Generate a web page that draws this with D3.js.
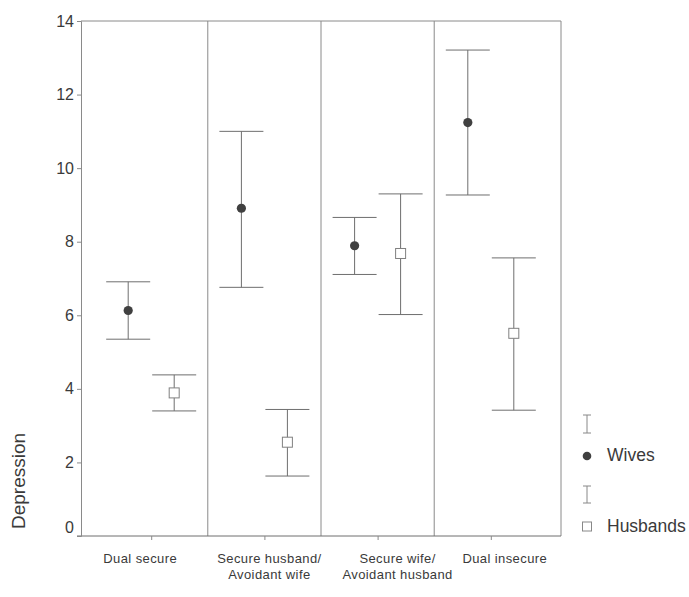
<!DOCTYPE html>
<html>
<head>
<meta charset="utf-8">
<script src="https://cdn.jsdelivr.net/npm/d3@7"></script>
<style>
  html, body { margin: 0; padding: 0; background: #fff; }
  svg { display: block; font-family: "Liberation Sans", Arial, sans-serif; }
</style>
</head>
<body>
<svg id="chart" width="689" height="597"></svg>
<script>
// ---- data ----
const categories = [
  ["Dual secure"],
  ["Secure husband/", "Avoidant wife"],
  ["Secure wife/", "Avoidant husband"],
  ["Dual insecure"]
];
const wivesMean    = [6.13, 8.91, 7.89, 11.24];
const wivesLow     = [5.35, 6.76, 7.11, 9.27];
const wivesHigh    = [6.91, 11.00, 8.66, 13.21];
const husbandsMean = [3.89, 2.55, 7.68, 5.51];
const husbandsLow  = [3.40, 1.63, 6.02, 3.42];
const husbandsHigh = [4.38, 3.44, 9.30, 7.56];
const yTicks = [0, 2, 4, 6, 8, 10, 12, 14];
const seriesNames = ["Wives", "Husbands"];
const yLabel = "Depression";

// ---- layout ----
const svg = d3.select("#chart");
const lineCol = "#8a8a8a";
const barCol = "#6e6e6e";
const textCol = "#3a3a3a";
const x = d3.scaleLinear().domain([-0.62, 3.62]).range([81, 561]);
const y = d3.scaleLinear().domain([0, 14]).range([536, 21]);
const off = 23, capW = 22;
const labelDx = [-11, 5, 20, 14];

const g = svg.append("g");

// frame + dividers
g.append("line").attr("x1", x(-0.62)).attr("x2", x(3.62)).attr("y1", y(14)).attr("y2", y(14))
  .attr("stroke", lineCol).attr("stroke-width", 1);
g.append("line").attr("x1", x(3.62)).attr("x2", x(3.62)).attr("y1", y(14)).attr("y2", y(0))
  .attr("stroke", lineCol).attr("stroke-width", 1);
[0.5, 1.5, 2.5].forEach(d => {
  g.append("line").attr("x1", x(d)).attr("x2", x(d)).attr("y1", y(14)).attr("y2", y(0))
    .attr("stroke", lineCol).attr("stroke-width", 1);
});
// x axis line
g.append("line").attr("x1", 77).attr("x2", x(3.62)).attr("y1", y(0)).attr("y2", y(0))
  .attr("stroke", "#6e6e6e").attr("stroke-width", 1);

// y axis
const yAxis = d3.axisLeft(y).tickValues(yTicks).tickSize(4).tickPadding(3).tickFormat(d3.format("d"));
const ya = g.append("g").attr("transform", `translate(${x(-0.62)},0)`).call(yAxis);
ya.select(".domain").attr("stroke", lineCol);
ya.selectAll(".tick line").attr("stroke", lineCol);
ya.selectAll(".tick text").attr("fill", textCol).style("font-size", "16px")
  .attr("font-family", "Liberation Sans, Arial, sans-serif");
ya.selectAll(".tick").filter(d => d === 0).select("line").remove();
ya.selectAll(".tick").filter(d => d === 0).select("text").attr("dy", "-0.2em");

// x ticks
const xa = g.append("g").attr("transform", `translate(0,${y(0)})`)
  .call(d3.axisBottom(x).tickValues([0, 1, 2, 3]).tickSize(4).tickFormat(""));
xa.select(".domain").remove();
xa.selectAll(".tick line").attr("stroke", lineCol);

// category labels
categories.forEach((lines, i) => {
  const t = g.append("text").attr("text-anchor", "middle").attr("fill", textCol)
    .style("font-size", "13px").style("letter-spacing", "0.4px");
  lines.forEach((ln, j) => {
    t.append("tspan").attr("x", x(i) + labelDx[i]).attr("y", 563 + j * 16).text(ln);
  });
});

// y label
g.append("text").attr("transform", "translate(25,481) rotate(-90)").attr("text-anchor", "middle")
  .attr("fill", textCol).style("font-size", "19px").text(yLabel);

// error bars helper
function errBar(sel, cx, lo, hi, hw) {
  sel.append("line").attr("x1", cx).attr("x2", cx).attr("y1", y(hi)).attr("y2", y(lo))
    .attr("stroke", barCol).attr("stroke-width", 1);
  sel.append("line").attr("x1", cx - hw).attr("x2", cx + hw).attr("y1", y(hi)).attr("y2", y(hi))
    .attr("stroke", barCol).attr("stroke-width", 1);
  sel.append("line").attr("x1", cx - hw).attr("x2", cx + hw).attr("y1", y(lo)).attr("y2", y(lo))
    .attr("stroke", barCol).attr("stroke-width", 1);
}

const marks = g.append("g");
categories.forEach((c, i) => {
  errBar(marks, x(i) - off, wivesLow[i], wivesHigh[i], capW);
  errBar(marks, x(i) + off, husbandsLow[i], husbandsHigh[i], capW);
});
marks.selectAll("circle.w").data(wivesMean).join("circle").attr("class", "w")
  .attr("cx", (d, i) => x(i) - off).attr("cy", d => y(d)).attr("r", 4.6)
  .attr("fill", "#404040");
marks.selectAll("rect.h").data(husbandsMean).join("rect").attr("class", "h")
  .attr("x", (d, i) => x(i) + off - 5).attr("y", d => y(d) - 5)
  .attr("width", 10).attr("height", 10)
  .attr("fill", "#fff").attr("stroke", "#808080").attr("stroke-width", 1);

// legend
const lg = g.append("g");
const lx = 587;
function legendBar(yt, yb) {
  lg.append("line").attr("x1", lx).attr("x2", lx).attr("y1", yt).attr("y2", yb).attr("stroke", "#888");
  lg.append("line").attr("x1", lx - 4).attr("x2", lx + 4).attr("y1", yt).attr("y2", yt).attr("stroke", "#888");
  lg.append("line").attr("x1", lx - 4).attr("x2", lx + 4).attr("y1", yb).attr("y2", yb).attr("stroke", "#888");
}
legendBar(415, 433);
lg.append("circle").attr("cx", lx).attr("cy", 456).attr("r", 4.3).attr("fill", "#404040");
lg.append("text").attr("x", 607).attr("y", 461).attr("fill", textCol).style("font-size", "17.5px").text(seriesNames[0]);
legendBar(486, 503);
lg.append("rect").attr("x", lx - 4.5).attr("y", 522).attr("width", 9).attr("height", 9)
  .attr("fill", "#fff").attr("stroke", "#888");
lg.append("text").attr("x", 607).attr("y", 532).attr("fill", textCol).style("font-size", "17.5px").text(seriesNames[1]);
</script>
</body>
</html>
